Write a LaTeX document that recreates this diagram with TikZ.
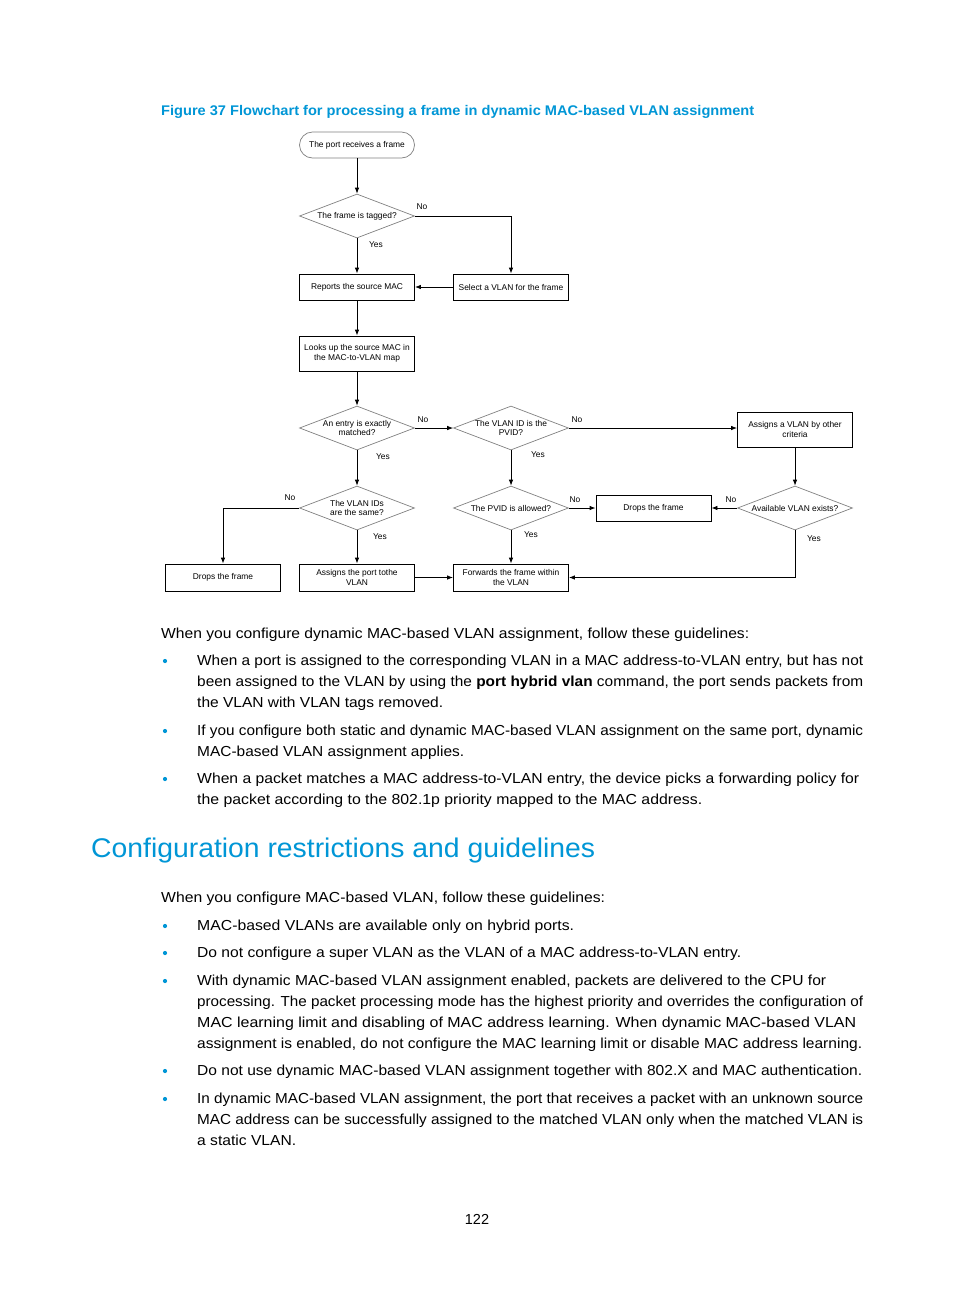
\documentclass[tikz,border=0pt]{standalone}
\usepackage{fontspec}
\setmainfont{Liberation Sans}
\usetikzlibrary{shapes.geometric,arrows.meta}
\definecolor{hpblue}{RGB}{0,150,214}
\definecolor{dgray}{RGB}{130,130,130}
\newcommand{\fitline}[2]{\resizebox{#1pt}{\height}{#2}}
\begin{document}
\begin{tikzpicture}[x=1pt,y=-1pt,
  fc/.style={font=\fontsize{8.4}{9.8}\selectfont},
  box/.style={fc,draw=black,line width=0.8pt,inner sep=1pt,align=center,minimum width=115pt},
  dia/.style={draw=dgray,line width=0.7pt,diamond,minimum width=115pt,minimum height=44pt,inner sep=0pt},
  dtext/.style={fc,align=center,inner sep=0pt},
  lbl/.style={fc,inner sep=0pt},
  arr/.style={line width=0.8pt,-{Latex[length=6pt,width=4.5pt]}},
  ln/.style={line width=0.8pt},
  body/.style={font=\fontsize{14.5}{17}\selectfont,inner sep=0pt,anchor=mid west},
  bul/.style={fill=hpblue,draw=none,circle,inner sep=0pt,minimum size=4.2pt}
]
\useasboundingbox (0,0) rectangle (954,1296);
\fill[white] (0,0) rectangle (954,1296);

% title
\node[inner sep=0pt,anchor=mid west,text=hpblue,font=\bfseries\fontsize{14}{16}\selectfont] (title) at (161,113)
  {\fitline{593}{Figure 37 Flowchart for processing a frame in dynamic MAC-based VLAN assignment}};

% flowchart nodes
\node[fc,draw=dgray,line width=0.7pt,rounded corners=13pt,minimum width=115pt,minimum height=26pt,inner sep=0pt] (start) at (357,145) {The port receives a frame};

\node[dia] (d1) at (357,216) {};
\node[dtext] (d1t) at (d1) {The frame is tagged?};

\node[box,minimum height=26pt] (rep) at (357,287) {Reports the source MAC};
\node[box,minimum height=26pt] (sel) at (511,287) {Select a VLAN for the frame};

\node[box,minimum height=35pt] (look) at (357,353.5) {Looks up the source MAC in\\the MAC-to-VLAN map};

\node[dia] (d2) at (357,428) {};
\node[dtext] (d2t) at (d2) {An entry is exactly\\matched?};

\node[dia] (d3) at (511,428) {};
\node[dtext] (d3t) at (d3) {The VLAN ID is the\\PVID?};

\node[box,minimum height=35pt] (other) at (795,429.5) {Assigns a VLAN by other\\criteria};

\node[dia] (d4) at (357,508) {};
\node[dtext] (d4t) at (d4) {The VLAN IDs\\are the same?};

\node[dia] (d5) at (511,508) {};
\node[dtext] (d5t) at (d5) {The PVID is allowed?};

\node[box,minimum height=26pt] (drop2) at (653.5,508) {Drops the frame};

\node[dia] (d6) at (795,508) {};
\node[dtext] (d6t) at (d6) {Available VLAN exists?};

\node[box,minimum height=27pt] (drop1) at (223,577.5) {Drops the frame};
\node[box,minimum height=27pt] (asg) at (357,577.5) {Assigns the port tothe\\VLAN};
\node[box,minimum height=27pt] (fwd) at (511,577.5) {Forwards the frame within\\the VLAN};

% connectors
\draw[arr] (start.south) -- (d1.north);
\draw[arr] (d1.south) -- (rep.north);
\draw[arr] (d1.east) -| (sel.north);
\draw[arr] (sel.west) -- (rep.east);
\draw[arr] (rep.south) -- (look.north);
\draw[arr] (look.south) -- (d2.north);
\draw[arr] (d2.east) -- (d3.west);
\draw[arr] (d3.east) -- (d3.east -| other.west);
\draw[arr] (d2.south) -- (d4.north);
\draw[arr] (d4.west) -| (drop1.north);
\draw[arr] (d4.south) -- (asg.north);
\draw[arr] (asg.east) -- (fwd.west);
\draw[arr] (d3.south) -- (d5.north);
\draw[arr] (d5.east) -- (drop2.west);
\draw[arr] (d5.south) -- (fwd.north);
\draw[arr] (other.south) -- (d6.north);
\draw[arr] (d6.west) -- (drop2.east);
\coordinate (c6) at (d6.south |- fwd.east);
\draw[ln] (d6.south) -- (c6);
\draw[arr] (c6) -- (fwd.east);

% labels
\node[lbl] (l1) at (422,207) {No};
\node[lbl] (l2) at (376,245) {Yes};
\node[lbl] (l3) at (423,420) {No};
\node[lbl] (l4) at (577,420) {No};
\node[lbl] (l5) at (383,457) {Yes};
\node[lbl] (l6) at (538,455) {Yes};
\node[lbl] (l7) at (290,498) {No};
\node[lbl] (l8) at (380,537) {Yes};
\node[lbl] (l9) at (575,500) {No};
\node[lbl] (l10) at (531,535) {Yes};
\node[lbl] (l11) at (731,500) {No};
\node[lbl] (l12) at (814,539) {Yes};

% body text
\node[body] (t1) at (161,636) {\fitline{588}{When you configure dynamic MAC-based VLAN assignment, follow these guidelines:}};
\node[bul] (bu1) at (165,661) {};
\node[body] (b1a) at (197,663) {\fitline{666}{When a port is assigned to the corresponding VLAN in a MAC address-to-VLAN entry, but has not}};
\node[body] (b1b) at (197,684) {\fitline{666}{been assigned to the VLAN by using the \textbf{port hybrid vlan} command, the port sends packets from}};
\node[body] (b1c) at (197,705) {\fitline{246}{the VLAN with VLAN tags removed.}};
\node[bul] (bu2) at (165,731) {};
\node[body] (b2a) at (197,733) {\fitline{666}{If you configure both static and dynamic MAC-based VLAN assignment on the same port, dynamic}};
\node[body] (b2b) at (197,754) {\fitline{267}{MAC-based VLAN assignment applies.}};
\node[bul] (bu3) at (165,779) {};
\node[body] (b3a) at (197,781) {\fitline{662}{When a packet matches a MAC address-to-VLAN entry, the device picks a forwarding policy for}};
\node[body] (b3b) at (197,802) {\fitline{505}{the packet according to the 802.1p priority mapped to the MAC address.}};

\node[inner sep=0pt,anchor=mid west,text=hpblue,font=\fontsize{27}{30}\selectfont] (head) at (91,855)
  {\fitline{504}{Configuration restrictions and guidelines}};

\node[body] (t2) at (161,900) {\fitline{444}{When you configure MAC-based VLAN, follow these guidelines:}};
\node[bul] (bu4) at (165,926) {};
\node[body] (c1) at (197,928) {\fitline{377}{MAC-based VLANs are available only on hybrid ports.}};
\node[bul] (bu5) at (165,953) {};
\node[body] (c2) at (197,955) {\fitline{544}{Do not configure a super VLAN as the VLAN of a MAC address-to-VLAN entry.}};
\node[bul] (bu6) at (165,981) {};
\node[body] (c3a) at (197,983) {\fitline{629}{With dynamic MAC-based VLAN assignment enabled, packets are delivered to the CPU for}};
\node[body] (c3b) at (197,1004) {\fitline{666}{processing. The packet processing mode has the highest priority and overrides the configuration of}};
\node[body] (c3c) at (197,1025) {\fitline{659}{MAC learning limit and disabling of MAC address learning. When dynamic MAC-based VLAN}};
\node[body] (c3d) at (197,1046) {\fitline{665}{assignment is enabled, do not configure the MAC learning limit or disable MAC address learning.}};
\node[bul] (bu7) at (165,1071) {};
\node[body] (c4) at (197,1073) {\fitline{665}{Do not use dynamic MAC-based VLAN assignment together with 802.X and MAC authentication.}};
\node[bul] (bu8) at (165,1099) {};
\node[body] (c5a) at (197,1101) {\fitline{666}{In dynamic MAC-based VLAN assignment, the port that receives a packet with an unknown source}};
\node[body] (c5b) at (197,1122) {\fitline{666}{MAC address can be successfully assigned to the matched VLAN only when the matched VLAN is}};
\node[body] (c5c) at (197,1143) {\fitline{99}{a static VLAN.}};

\node[font=\fontsize{14.5}{17}\selectfont,inner sep=0pt] (page) at (477,1219) {122};
\end{tikzpicture}
\end{document}
